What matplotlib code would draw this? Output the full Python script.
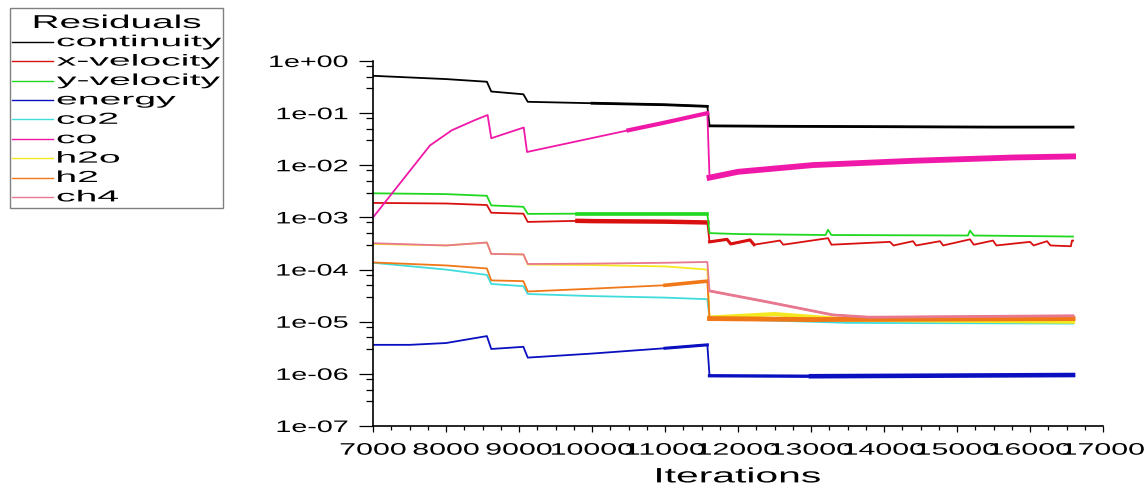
import matplotlib
matplotlib.use('Agg')
import numpy as np
import matplotlib.pyplot as plt
from matplotlib.patheffects import AbstractPathEffect
from matplotlib.transforms import Affine2D
from matplotlib.lines import Line2D
from matplotlib.patches import Rectangle
from matplotlib.ticker import MultipleLocator, LogLocator, FuncFormatter, NullFormatter

plt.rcParams['font.family'] = ['Liberation Sans', 'DejaVu Sans']

# residual histories (iteration, residual) at the kinks and steps of each curve
cont_it = [7000, 8000, 8560, 8620, 9060, 9120, 10000, 11000, 11580, 11610, 12500, 14000, 15500, 16590]
cont_val = [0.52, 0.45, 0.40, 0.26, 0.23, 0.165, 0.155, 0.145, 0.135, 0.057, 0.056, 0.055, 0.054, 0.054]

xvel_it = [7000, 8000, 8560, 8620, 9060, 9120, 9800, 10000, 11000, 11580, 11610,
           11850, 11900, 12165, 12220, 12575, 12620, 13233, 13280, 14082, 14130,
           14397, 14440, 14767, 14810, 15178, 15230, 15493, 15540, 16000, 16050,
           16233, 16280, 16560, 16575, 16590]
xvel_val = [0.0019, 0.00185, 0.00173, 0.00123, 0.00118, 0.00082, 0.00086, 0.00085, 0.00083, 0.00080, 0.00034,
            0.00038, 0.00031, 0.00037, 0.00030, 0.00036, 0.00030, 0.00040, 0.00030, 0.00034, 0.00029,
            0.00035, 0.00029, 0.00035, 0.00029, 0.00038, 0.00030, 0.00036, 0.00029, 0.00034, 0.00029,
            0.00035, 0.00029, 0.00028, 0.00036, 0.00036]

yvel_it = [7000, 8000, 8560, 8620, 9060, 9120, 9800, 11000, 11580, 11610, 12000,
           13200, 13233, 13280, 15150, 15178, 15230, 16590]
yvel_val = [0.0029, 0.0028, 0.0026, 0.0017, 0.0016, 0.00117, 0.00118, 0.00118, 0.00118, 0.00050, 0.00048,
            0.00046, 0.00058, 0.00046, 0.00045, 0.00056, 0.00045, 0.00043]

energy_it = [7000, 7500, 8000, 8560, 8620, 9060, 9120, 10000, 11000, 11580, 11610, 13000, 14500, 16590]
energy_val = [3.6e-6, 3.6e-6, 3.9e-6, 5.3e-6, 3.0e-6, 3.3e-6, 2.05e-6, 2.45e-6, 3.1e-6, 3.6e-6, 9.2e-7, 9.0e-7, 9.2e-7, 9.5e-7]

co2_it = [7000, 8000, 8560, 8620, 9060, 9120, 10000, 11000, 11580, 11610, 12500, 13500, 16590]
co2_val = [1.35e-4, 1.0e-4, 7.9e-5, 5.3e-5, 4.8e-5, 3.4e-5, 3.1e-5, 2.9e-5, 2.7e-5, 1.15e-5, 1.05e-5, 9.5e-6, 9.2e-6]

co_it = [7000, 7780, 8080, 8400, 8570, 8620, 9065, 9110, 9750, 10500, 11000, 11580, 11610,
         12000, 13030, 14400, 15770, 16590]
co_val = [1.0e-3, 0.024, 0.047, 0.074, 0.092, 0.033, 0.053, 0.018, 0.028, 0.047, 0.066, 0.10, 0.0058,
          0.0075, 0.0101, 0.0122, 0.0141, 0.0148]

h2o_it = [7000, 8000, 8560, 8620, 9060, 9120, 10000, 11000, 11580, 11610, 12500, 13500, 16590]
h2o_val = [3.1e-4, 2.9e-4, 3.3e-4, 2.0e-4, 1.95e-4, 1.25e-4, 1.22e-4, 1.15e-4, 1.0e-4, 1.2e-5, 1.4e-5, 1.1e-5, 1.0e-5]

h2_it = [7000, 8000, 8560, 8620, 9060, 9120, 10000, 11000, 11580, 11610, 13000, 16590]
h2_val = [1.37e-4, 1.2e-4, 1.05e-4, 6.2e-5, 6.0e-5, 3.8e-5, 4.3e-5, 5.0e-5, 6.0e-5, 1.15e-5, 1.1e-5, 1.15e-5]

ch4_it = [7000, 8000, 8560, 8620, 9060, 9120, 10000, 11000, 11580, 11610, 12400, 12850,
          13300, 13800, 16590]
ch4_val = [3.2e-4, 2.9e-4, 3.3e-4, 2.0e-4, 1.95e-4, 1.28e-4, 1.3e-4, 1.35e-4, 1.4e-4, 3.9e-5, 2.4e-5, 1.8e-5,
           1.35e-5, 1.22e-5, 1.3e-5]

names = ['continuity', 'x-velocity', 'y-velocity', 'energy', 'co2', 'co', 'h2o', 'h2', 'ch4']
colors = ['#000000', '#d81010', '#20d820', '#0a10c0', '#40dcdc', '#f018a8', '#f4e820', '#f07818', '#e87890']


class Stretch(AbstractPathEffect):
    """Draw text widened horizontally about its left/centre/right edge."""

    def __init__(self, sx, anchor='center'):
        super().__init__()
        self.sx = sx
        self.anchor = anchor

    def draw_path(self, renderer, gc, tpath, affine, rgbFace=None):
        ext = tpath.get_extents()
        if self.anchor == 'left':
            x0 = ext.x0
        elif self.anchor == 'right':
            x0 = ext.x1
        else:
            x0 = 0.5 * (ext.x0 + ext.x1)
        t = Affine2D().translate(-x0, 0).scale(self.sx, 1).translate(x0, 0) + affine
        renderer.draw_path(gc, tpath, t, rgbFace)


W, H = 1146, 488
fig = plt.figure(figsize=(W / 100, H / 100), dpi=100)
ax = fig.add_axes([373 / W, 1 - 426 / H, 730 / W, 365 / H])


def draw(it, val, color, bands=()):
    it = np.asarray(it)
    val = np.asarray(val)
    ax.plot(it, val, color=color, lw=1.3)
    for lo, hi, lw in bands:
        m = (it >= lo) & (it <= hi)
        ax.plot(it[m], val[m], color=color, lw=lw)


draw(cont_it, cont_val, colors[0], [(10000, 11580, 2.0), (11610, 16590, 2.0)])
draw(xvel_it, xvel_val, colors[1], [(9800, 11580, 3.2), (11610, 12220, 2.2)])
draw(yvel_it, yvel_val, colors[2], [(9800, 11580, 2.6)])
draw(energy_it, energy_val, colors[3], [(11000, 11580, 2.2), (11610, 13000, 2.4), (13000, 16590, 3.3)])
draw(co2_it, co2_val, colors[4])
draw(co_it, co_val, colors[5], [(10500, 11580, 3.0), (11610, 16590, 4.2)])
draw(h2o_it, h2o_val, colors[6], [(11610, 16590, 3.0)])
draw(h2_it, h2_val, colors[7], [(11000, 11580, 2.6), (11610, 16590, 3.5)])
draw(ch4_it, ch4_val, colors[8], [(11610, 16590, 2.0)])

ax.set_yscale('log')
ax.set_xlim(7000, 17000)
ax.set_ylim(1e-7, 1)
ax.xaxis.set_major_locator(MultipleLocator(1000))
ax.xaxis.set_minor_locator(MultipleLocator(250))
ax.yaxis.set_major_locator(LogLocator(base=10, numticks=10))
ax.yaxis.set_minor_locator(LogLocator(base=10, subs=(3, 5, 8), numticks=10))
ax.yaxis.set_major_formatter(FuncFormatter(lambda v, _: f'{v:.0e}'))
ax.yaxis.set_minor_formatter(NullFormatter())
for s in ['top', 'right']:
    ax.spines[s].set_visible(False)
for s in ['left', 'bottom']:
    ax.spines[s].set_linewidth(1.2)
ax.tick_params(axis='y', which='major', direction='out', length=10, width=0.9, pad=8, labelsize=12)
ax.tick_params(axis='y', which='minor', direction='out', length=5, width=0.9)
ax.tick_params(axis='x', which='major', direction='out', length=4, width=0.9, pad=8, labelsize=12)
ax.tick_params(axis='x', which='minor', direction='out', length=3, width=0.9)
for lab in ax.get_yticklabels():
    lab.set_path_effects([Stretch(1.72, 'right')])
for lab in ax.get_xticklabels():
    lab.set_path_effects([Stretch(1.82, 'center')])

xl = ax.set_xlabel('Iterations', fontsize=15, labelpad=7)
xl.set_path_effects([Stretch(1.96, 'center')])

# legend box drawn in figure pixels
def fx(px):
    return px / W


def fy(py):
    return 1 - py / H


fig.add_artist(Rectangle((fx(10), fy(208)), fx(213), 200 / H, transform=fig.transFigure,
                         fill=False, edgecolor='#808080', lw=1.0))
t = fig.text(fx(117), fy(28), 'Residuals', fontsize=13.4, ha='center', va='baseline')
t.set_path_effects([Stretch(2.08, 'center')])
for i, (name, c) in enumerate(zip(names, colors)):
    yy = 41.7 + i * 19.4
    fig.add_artist(Line2D([fx(12), fx(53)], [fy(yy), fy(yy)], color=c, lw=1.0,
                          transform=fig.transFigure))
    t = fig.text(fx(57), fy(yy + 4.5), name, fontsize=11.5, ha='left', va='baseline')
    t.set_path_effects([Stretch(2.45, 'left')])

fig.savefig('out.png', dpi=100)
